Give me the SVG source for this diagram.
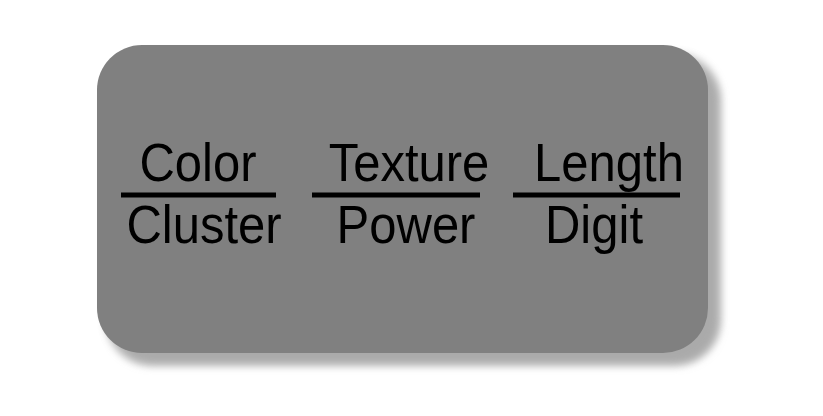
<svg xmlns="http://www.w3.org/2000/svg" width="823" height="416" viewBox="0 0 823 416">
<defs>
<filter id="blur" x="-10%" y="-10%" width="120%" height="120%"><feGaussianBlur stdDeviation="4"/></filter>
<style>
.t{font-family:"Liberation Sans",Arial,sans-serif;font-size:49px;fill:#000;text-anchor:middle}
.bar{stroke:#000;stroke-width:5}
</style>
</defs>
<g id="box">
<rect x="104" y="52" width="616" height="312" rx="46" fill="#000" opacity="0.12" filter="url(#blur)"/>
<rect x="108" y="56" width="612" height="309" rx="45" fill="#aaaaaa" filter="url(#blur)"/>
<rect x="97" y="45" width="611" height="308" rx="45" fill="#808080"/>
</g>
<g id="fraction1">
<text class="t" transform="translate(198,181) scale(1,1.08)">Color</text>
<line class="bar" x1="121" y1="195" x2="276" y2="195"/>
<text class="t" transform="translate(204,243) scale(1,1.08)">Cluster</text>
</g>
<g id="fraction2">
<text class="t" transform="translate(409,181) scale(1,1.08)">Texture</text>
<line class="bar" x1="312" y1="195" x2="480" y2="195"/>
<text class="t" transform="translate(406,243) scale(1,1.08)">Power</text>
</g>
<g id="fraction3">
<text class="t" transform="translate(609,181) scale(1,1.08)">Length</text>
<line class="bar" x1="513" y1="195" x2="680" y2="195"/>
<text class="t" transform="translate(594,243) scale(1,1.08)">Digit</text>
</g>
<g id="connectors"/>
</svg>
